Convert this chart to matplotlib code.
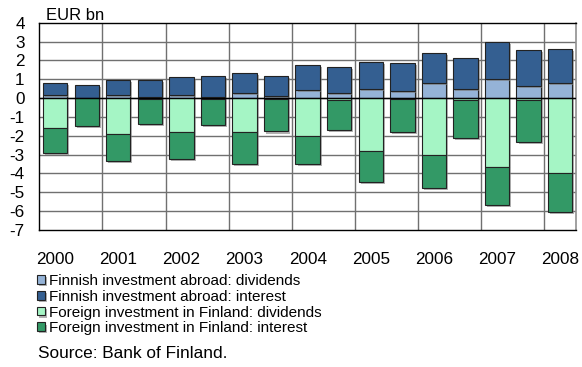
import matplotlib
matplotlib.use("Agg")
import matplotlib.pyplot as plt
import matplotlib.patheffects as pe
import numpy as np

plt.rcParams['font.family'] = ['Liberation Sans', 'DejaVu Sans']

# Half-year periods, 2000 H1 ... 2008 H1
periods = ['2000H1', '2000H2', '2001H1', '2001H2', '2002H1', '2002H2',
           '2003H1', '2003H2', '2004H1', '2004H2', '2005H1', '2005H2',
           '2006H1', '2006H2', '2007H1', '2007H2', '2008H1']
year_labels = ['2000', '2001', '2002', '2003', '2004', '2005', '2006', '2007', '2008']

# EUR bn
abroad_dividends = [0.16, 0.03, 0.16, 0.05, 0.16, 0.07, 0.25, 0.10, 0.42,
                    0.27, 0.48, 0.39, 0.78, 0.46, 1.01, 0.62, 0.80]
abroad_interest = [0.62, 0.66, 0.81, 0.92, 0.95, 1.10, 1.09, 1.07, 1.33,
                   1.39, 1.43, 1.47, 1.61, 1.68, 1.96, 1.92, 1.83]
finland_dividends = [-1.57, -0.02, -1.91, -0.04, -1.80, -0.04, -1.82, -0.07, -2.01,
                     -0.10, -2.83, -0.07, -3.02, -0.09, -3.66, -0.10, -3.98]
finland_interest = [-1.36, -1.45, -1.43, -1.34, -1.45, -1.39, -1.68, -1.70, -1.49,
                    -1.60, -1.62, -1.73, -1.77, -2.03, -1.99, -2.23, -2.06]

labels = ['Finnish investment abroad: dividends',
          'Finnish investment abroad: interest',
          'Foreign investment in Finland: dividends',
          'Foreign investment in Finland: interest']
colors = ['#95B3D7', '#345F91', '#A5F5C5', '#339966']

fig = plt.figure(figsize=(5.82, 3.67), dpi=100)
ax = fig.add_axes([39.3 / 582, 1 - 230 / 367, (576 - 39.3) / 582, (230 - 22.7) / 367])

x = np.arange(len(periods))
w = 0.77
shadow = [pe.SimplePatchShadow(offset=(1.5, -1.5), shadow_rgbFace='#808080', alpha=0.6),
          pe.Normal()]
kw = dict(width=w, edgecolor='#222222', linewidth=0.8, zorder=3)

ad = np.array(abroad_dividends)
ai = np.array(abroad_interest)
fd = np.array(finland_dividends)
fi = np.array(finland_interest)

b1 = ax.bar(x, ad, color=colors[0], label=labels[0], **kw)
b2 = ax.bar(x, ai, bottom=ad, color=colors[1], label=labels[1], **kw)
b3 = ax.bar(x, fd, color=colors[2], label=labels[2], **kw)
b4 = ax.bar(x, fi, bottom=fd, color=colors[3], label=labels[3], **kw)
for cont in (b1, b2, b3, b4):
    for p in cont:
        p.set_path_effects(shadow)

ax.axhline(0, color='black', linewidth=1.0, zorder=4)

ax.set_xlim(-0.5, len(periods) - 0.5)
ax.set_ylim(-7, 4)
ax.set_yticks(np.arange(-7, 5))
ax.set_yticklabels([str(v) for v in range(-7, 5)])
ax.set_xticks(x[::2])
ax.set_xticklabels(year_labels)
ax.tick_params(axis='both', length=0, labelsize=12.3)
ax.tick_params(axis='y', pad=10.5)
ax.tick_params(axis='x', pad=15.5)

# grid: horizontal at every unit, vertical at year boundaries
for yv in range(-6, 4):
    ax.axhline(yv, color='#707070', linewidth=1.0, zorder=1)
for xv in np.arange(1.5, len(periods) - 1, 2):
    ax.axvline(xv, color='#707070', linewidth=1.0, zorder=1)

for side in ('left', 'bottom', 'top'):
    ax.spines[side].set_color('black')
    ax.spines[side].set_linewidth(1.0)
ax.spines['right'].set_color('#909090')
ax.spines['right'].set_linewidth(1.2)

fig.text(45.7 / 582, 1 - 19.5 / 367, 'EUR bn', fontsize=12, ha='left', va='baseline')

fig.legend(handles=[b1, b2, b3, b4], labels=labels, loc='upper left',
           bbox_to_anchor=(37 / 582, 1 - 274 / 367), frameon=False, fontsize=11,
           handlelength=0.5, handleheight=0.5, handletextpad=0.3,
           labelspacing=0.115, borderpad=0, borderaxespad=0)

fig.text(38.3 / 582, 1 - 358 / 367, 'Source: Bank of Finland.', fontsize=12.4,
         ha='left', va='baseline')

fig.savefig('out.png', dpi=100)
